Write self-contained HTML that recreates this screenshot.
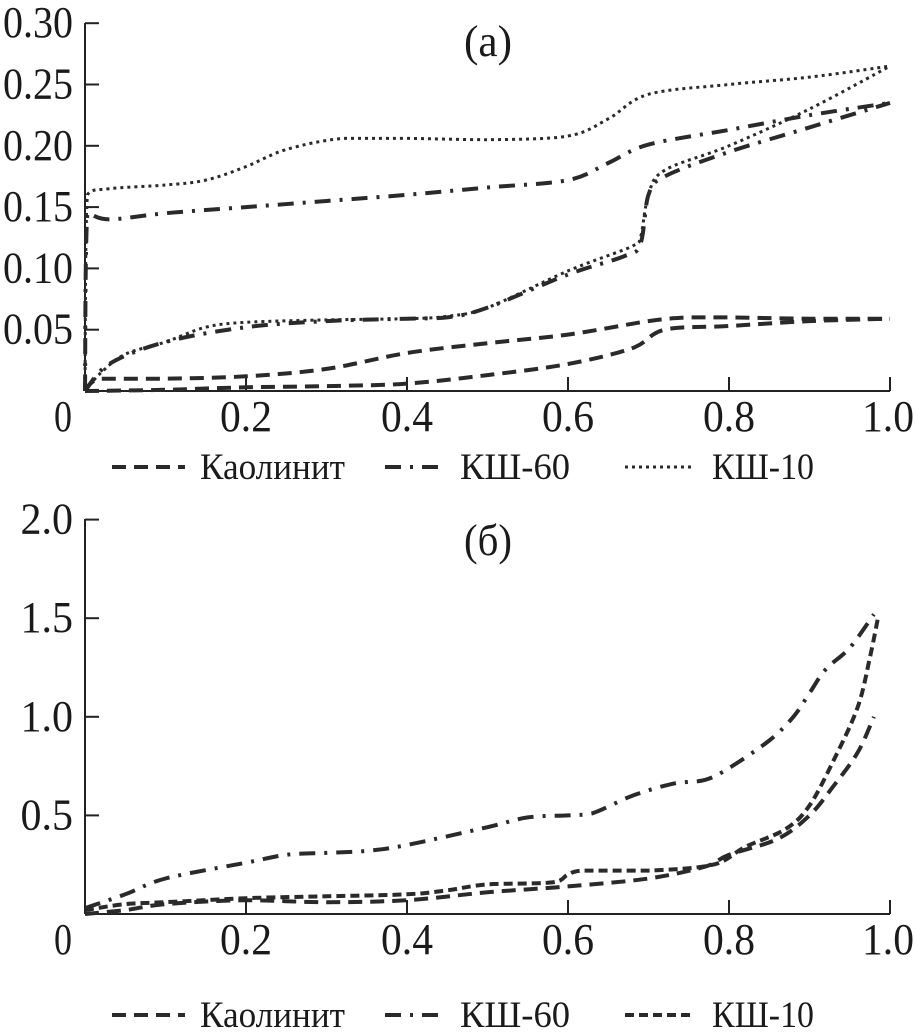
<!DOCTYPE html>
<html><head><meta charset="utf-8"><style>
body{margin:0;background:#fff}
svg{display:block}
text{font-family:"Liberation Serif","Noto Serif CJK SC",serif;fill:#1a1a1a}
</style></head><body>
<svg id="chart" width="916" height="1035" viewBox="0 0 916 1035" xmlns="http://www.w3.org/2000/svg"></svg>
<script>
// Panel (a)
const xTicks = [0, 0.2, 0.4, 0.6, 0.8, 1.0];
const xTickLabels = ["0", "0.2", "0.4", "0.6", "0.8", "1.0"];
const aYTicks = [0.05, 0.10, 0.15, 0.20, 0.25, 0.30];
const aYTickLabels = ["0.05", "0.10", "0.15", "0.20", "0.25", "0.30"];
const aKaolUpX = [0, 0.02, 0.1, 0.2, 0.3, 0.4, 0.5, 0.6, 0.7, 0.75, 0.8, 0.9, 1.0];
const aKaolUpY = [0, 0.01, 0.01, 0.012, 0.018, 0.031, 0.039, 0.046, 0.057, 0.06, 0.06, 0.059, 0.059];
const aKaolLoX = [0, 0.1, 0.2, 0.3, 0.4, 0.5, 0.6, 0.68, 0.72, 0.8, 0.9, 1.0];
const aKaolLoY = [0, 0.001, 0.003, 0.004, 0.006, 0.013, 0.022, 0.035, 0.05, 0.053, 0.057, 0.059];
const a60UpX = [0, 0.003, 0.03, 0.1, 0.2, 0.3, 0.4, 0.5, 0.6, 0.65, 0.7, 0.8, 0.9, 1.0];
const a60UpY = [0, 0.145, 0.14, 0.145, 0.15, 0.155, 0.16, 0.166, 0.172, 0.186, 0.201, 0.213, 0.225, 0.235];
const a60LoX = [0, 0.03, 0.1, 0.2, 0.3, 0.4, 0.45, 0.5, 0.6, 0.67, 0.69, 0.7, 0.72, 0.8, 0.9, 1.0];
const a60LoY = [0, 0.022, 0.04, 0.052, 0.057, 0.059, 0.06, 0.068, 0.095, 0.11, 0.12, 0.16, 0.175, 0.195, 0.215, 0.235];
const a10UpX = [0, 0.003, 0.03, 0.1, 0.15, 0.2, 0.25, 0.32, 0.4, 0.5, 0.6, 0.65, 0.7, 0.8, 0.9, 1.0];
const a10UpY = [0, 0.16, 0.165, 0.168, 0.172, 0.183, 0.197, 0.206, 0.206, 0.205, 0.208, 0.222, 0.242, 0.25, 0.256, 0.265];
const a10LoX = [0, 0.02, 0.05, 0.1, 0.15, 0.2, 0.3, 0.4, 0.45, 0.5, 0.6, 0.68, 0.69, 0.7, 0.72, 0.8, 0.9, 1.0];
const a10LoY = [0, 0.015, 0.03, 0.04, 0.052, 0.056, 0.058, 0.059, 0.061, 0.068, 0.098, 0.118, 0.125, 0.16, 0.18, 0.2, 0.23, 0.265];
// Panel (б)
const bYTicks = [0.5, 1.0, 1.5, 2.0];
const bYTickLabels = ["0.5", "1.0", "1.5", "2.0"];
const b60X = [0, 0.05, 0.1, 0.2, 0.25, 0.3, 0.35, 0.4, 0.5, 0.55, 0.6, 0.63, 0.68, 0.73, 0.77, 0.8, 0.85, 0.88, 0.9, 0.92, 0.95, 0.98];
const b60Y = [0.03, 0.1, 0.18, 0.26, 0.3, 0.31, 0.32, 0.35, 0.44, 0.49, 0.5, 0.51, 0.6, 0.66, 0.68, 0.74, 0.88, 1.0, 1.12, 1.24, 1.35, 1.52];
const b10X = [0, 0.05, 0.1, 0.2, 0.3, 0.4, 0.45, 0.5, 0.58, 0.6, 0.62, 0.7, 0.78, 0.82, 0.87, 0.9, 0.93, 0.96, 0.975, 0.985];
const b10Y = [0.02, 0.05, 0.06, 0.08, 0.09, 0.1, 0.12, 0.15, 0.16, 0.2, 0.22, 0.22, 0.25, 0.34, 0.43, 0.55, 0.78, 1.05, 1.3, 1.5];
const bKaolX = [0, 0.05, 0.1, 0.2, 0.3, 0.4, 0.5, 0.6, 0.7, 0.77, 0.8, 0.86, 0.9, 0.93, 0.96, 0.98];
const bKaolY = [0, 0.02, 0.05, 0.07, 0.06, 0.07, 0.11, 0.14, 0.18, 0.24, 0.3, 0.38, 0.5, 0.65, 0.82, 1.0];

const NS = "http://www.w3.org/2000/svg";
const svg = document.getElementById("chart");
const X0 = 85, X1 = 890;
function sx(v){ return X0 + v * (X1 - X0); }
function syA(v){ return 391 - v / 0.05 * 61.3; }
function syB(v){ return 914 - v / 0.5 * 98.6; }
function mk(tag, attrs, parent){
  const e = document.createElementNS(NS, tag);
  for (const k in attrs) e.setAttribute(k, attrs[k]);
  (parent || svg).appendChild(e);
  return e;
}
function clamp(v, a, b){ const lo = Math.min(a, b), hi = Math.max(a, b); return Math.max(lo, Math.min(hi, v)); }
function smoothPath(xs, ys, fy){
  const p = xs.map((x, i) => [sx(x), fy(ys[i])]);
  let d = "M" + p[0][0].toFixed(1) + "," + p[0][1].toFixed(1);
  for (let i = 0; i < p.length - 1; i++){
    const p0 = p[i - 1] || p[i], p1 = p[i], p2 = p[i + 1], p3 = p[i + 2] || p2;
    const c1 = [clamp(p1[0] + (p2[0] - p0[0]) / 6, p1[0], p2[0]), clamp(p1[1] + (p2[1] - p0[1]) / 6, p1[1], p2[1])];
    const c2 = [clamp(p2[0] - (p3[0] - p1[0]) / 6, p1[0], p2[0]), clamp(p2[1] - (p3[1] - p1[1]) / 6, p1[1], p2[1])];
    d += " C" + c1.map(n => n.toFixed(1)).join(",") + " " + c2.map(n => n.toFixed(1)).join(",") + " " + p2.map(n => n.toFixed(1)).join(",");
  }
  return d;
}
const DASH = "14,8", DASHDOT = "16,9,3,9", DOT = "3,4", SHORTDASH = "9,5";
function axes(top, bottom, yTicks, yLabels, fy, name){
  const g = mk("g", {});
  
  
  mk("line", {x1: X0, y1: top, x2: X0, y2: bottom, stroke: "#222", "stroke-width": 2}, g);
  mk("line", {x1: X0, y1: bottom, x2: X1, y2: bottom, stroke: "#222", "stroke-width": 2}, g);
  xTicks.forEach((t, i) => {
    if (i > 0) mk("line", {x1: sx(t), y1: bottom, x2: sx(t), y2: bottom - 14, stroke: "#222", "stroke-width": 2}, g);
    const last = i === xTicks.length - 1;
    const tx = mk("text", {x: i === 0 ? 63 : (last ? 914 : sx(t)), y: bottom + 40, "font-size": 44, "text-anchor": i === 0 ? "middle" : (last ? "end" : "middle"), textLength: i === 0 ? 18 : 52, lengthAdjust: "spacingAndGlyphs"}, g);
    
    
    tx.textContent = xTickLabels[i];
  });
  yTicks.forEach((t, i) => {
    const y = fy(t);
    mk("line", {x1: X0, y1: y, x2: X0 + 14, y2: y, stroke: "#222", "stroke-width": 2}, g);
    const tx = mk("text", {x: 73, y: y + 14, "font-size": 44, "text-anchor": "end", textLength: yLabels[i].length * 17.5, lengthAdjust: "spacingAndGlyphs"}, g);
    
    
    tx.textContent = yLabels[i];
  });
}
function series(xs, ys, fy, dash, name){
  const p = mk("path", {d: smoothPath(xs, ys, fy), fill: "none", stroke: "#2a2a2a", "stroke-width": dash === DOT ? 3 : 4, "stroke-dasharray": dash});
  
  
}
function legend(y, third, name){
  const g = mk("g", {});
  
  
  const items = [[112, 185, DASH, 4, 200, "Каолинит", 145], [385, 445, DASHDOT, 4, 460, "КШ-60", 110], [625, 695, third, third === DOT ? 3 : 4, 712, "КШ-10", 102]];
  items.forEach(it => {
    mk("line", {x1: it[0], y1: y, x2: it[1], y2: y, stroke: "#2a2a2a", "stroke-width": it[3], "stroke-dasharray": it[2]}, g);
    const t = mk("text", {x: it[4], y: y + 12, "font-size": 37, textLength: it[6], lengthAdjust: "spacingAndGlyphs"}, g);
    
    
    t.textContent = it[5];
  });
}
// panel a
axes(23, 391, aYTicks, aYTickLabels, syA, "panel-a");
let ta = mk("text", {x: 488, y: 56, "font-size": 44, "text-anchor": "middle", textLength: 48, lengthAdjust: "spacingAndGlyphs"});


ta.textContent = "(a)";
series(aKaolUpX, aKaolUpY, syA, DASH, "kaolinite-a-upper");
series(aKaolLoX, aKaolLoY, syA, DASH, "kaolinite-a-lower");
series(a60UpX, a60UpY, syA, DASHDOT, "ksh60-a-upper");
series(a60LoX, a60LoY, syA, DASHDOT, "ksh60-a-lower");
series(a10UpX, a10UpY, syA, DOT, "ksh10-a-upper");
series(a10LoX, a10LoY, syA, DOT, "ksh10-a-lower");
legend(467, DOT, "legend-a");
// panel б
axes(519, 914, bYTicks, bYTickLabels, syB, "panel-b");
let tb = mk("text", {x: 488, y: 555, "font-size": 44, "text-anchor": "middle", textLength: 48, lengthAdjust: "spacingAndGlyphs"});


tb.textContent = "(б)";
series(b60X, b60Y, syB, DASHDOT, "ksh60-b");
series(b10X, b10Y, syB, SHORTDASH, "ksh10-b");
series(bKaolX, bKaolY, syB, DASH, "kaolinite-b");
legend(1015, SHORTDASH, "legend-b");
</script>
</body></html>
